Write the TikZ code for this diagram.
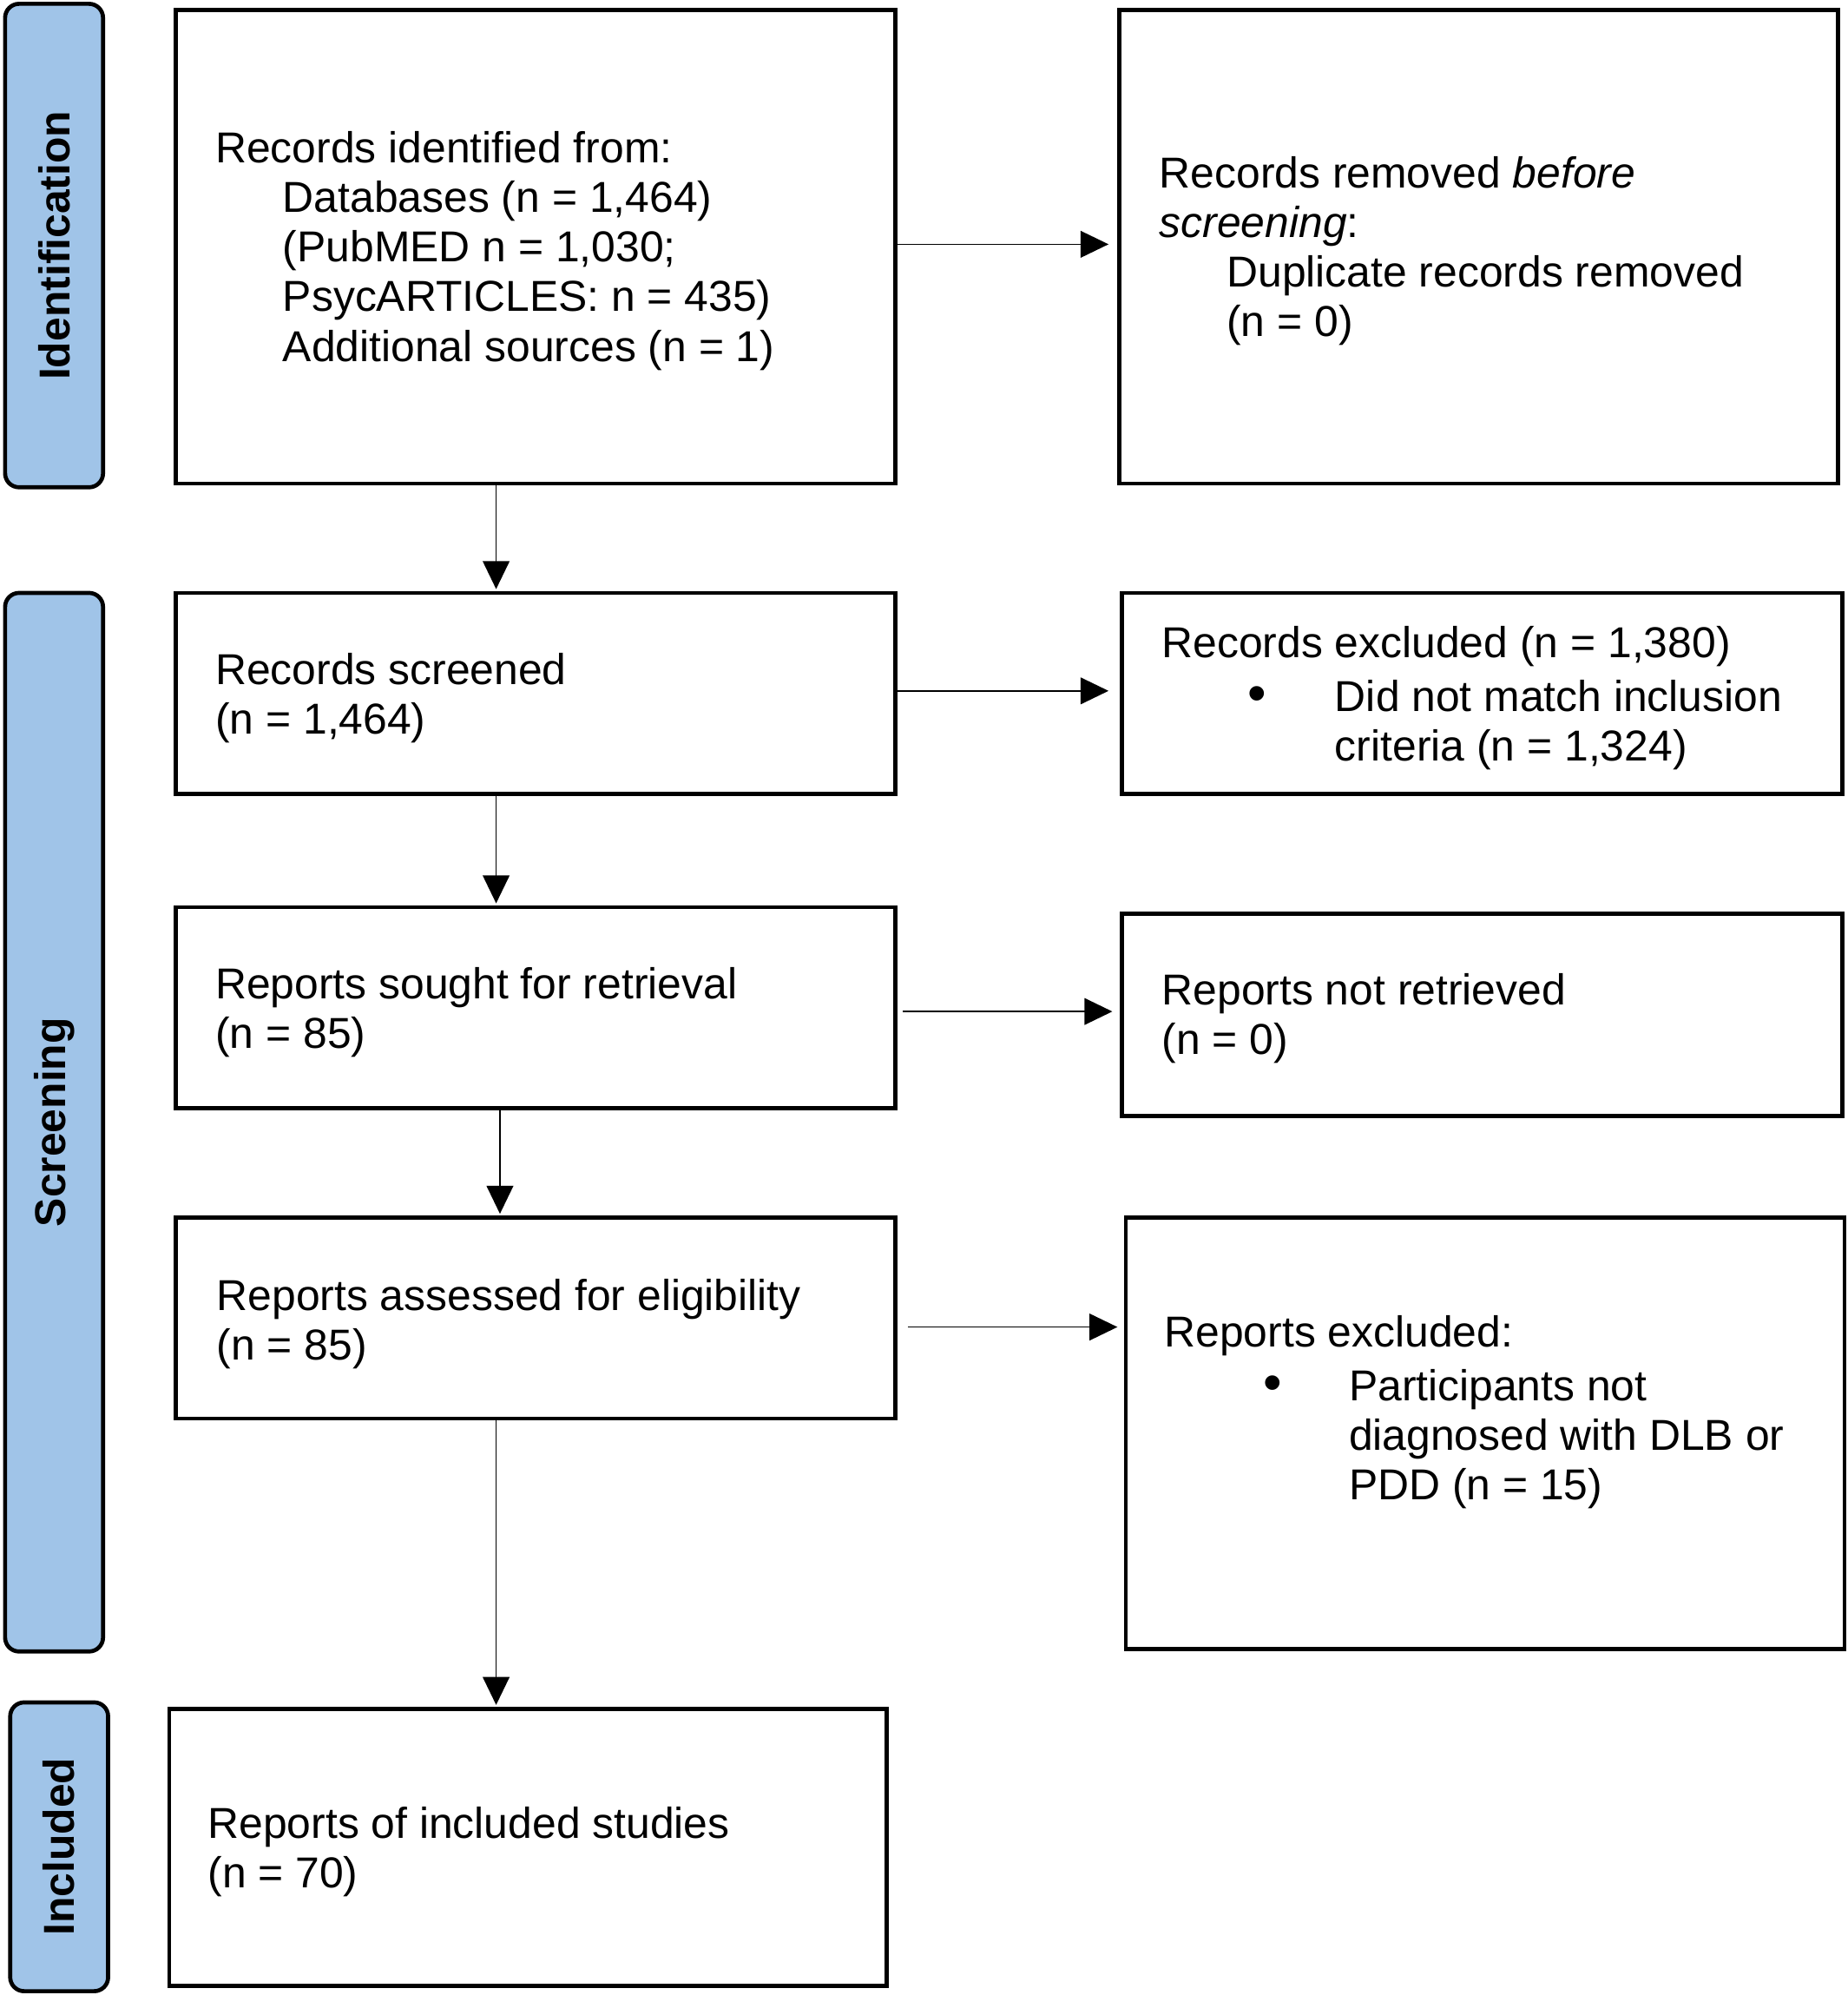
\documentclass[tikz,border=0pt]{standalone}
\usepackage{fontspec}
\setmainfont{Liberation Sans}
\usetikzlibrary{arrows.meta,fit}
\definecolor{barblue}{HTML}{A0C4E8}
\newcommand{\fs}{\rule{0pt}{14pt}}
\newcommand{\bigbul}{\makebox[0pt]{\fontsize{21}{19.5}\selectfont •}}
\begin{document}
\begin{tikzpicture}[x=0.5pt,y=-0.5pt,
  box/.style={draw=black,line width=1.6pt,inner sep=0pt,fill=white},
  bar/.style={draw=black,line width=1.6pt,fill=barblue,rounded corners=5.5pt,inner sep=0pt},
  barlabel/.style={rotate=90,font=\fontsize{17}{19.5}\selectfont\bfseries,inner sep=0pt},
  txt/.style={anchor=north west,align=left,inner sep=0pt,font=\fontsize{17}{19.5}\selectfont},
  arr/.style={-{Triangle[length=11pt,width=10.5pt]},line width=0.6pt}]
\useasboundingbox (0,0) rectangle (1452,1568);
% side bars
\node[bar,fit={(4,3)(81,383)}] (sb1) {};
\node[bar,fit={(4,466)(81,1298)}] (sb2) {};
\node[bar,fit={(8,1338)(85,1565)}] (sb3) {};
\node[barlabel] (l1) at (sb1.center) {Identification};
\node[barlabel] (l2) at (sb2.center) {Screening};
\node[barlabel] (l3) at (sb3.center) {Included};
% boxes
\node[box,fit={(138,8)(704,380)}] (b1) {};
\node[box,fit={(880,8)(1445,380)}] (r1) {};
\node[box,fit={(138,466)(704,624)}] (b2) {};
\node[box,fit={(882,466)(1448,624)}] (r2) {};
\node[box,fit={(138,713)(704,871)}] (b3) {};
\node[box,fit={(882,718)(1448,877)}] (r3) {};
\node[box,fit={(138,957)(704,1115)}] (b4) {};
\node[box,fit={(885,957)(1450,1296)}] (r4) {};
\node[box,fit={(133,1343)(697,1561)}] (b5) {};
% texts
\node[txt] (t1) at (169,99.5) {\fs Records identified from:\\
\hspace*{26.5pt}Databases (n = 1,464)\\
\hspace*{26.5pt}(PubMED n = 1,030;\\
\hspace*{26.5pt}PsycARTICLES: n = 435)\\
\hspace*{26.5pt}Additional sources (n = 1)};
\node[txt] (t2) at (911,119) {\fs Records removed \textit{before}\\
\textit{screening}:\\
\hspace*{26.5pt}Duplicate records removed\\
\hspace*{26.5pt}(n = 0)};
\node[txt] (t3) at (169,509.5) {\fs Records screened\\(n = 1,464)};
\node[txt] (t4) at (913,488.5) {\fs Records excluded (n = 1,380)\\[1.5pt]
\hspace*{37.5pt}\bigbul\hspace*{30.5pt}Did not match inclusion\\
\hspace*{68pt}criteria (n = 1,324)};
\node[txt] (t5) at (169,756.5) {\fs Reports sought for retrieval\\(n = 85)};
\node[txt] (t6) at (913,761.5) {\fs Reports not retrieved\\(n = 0)};
\node[txt] (t7) at (170,1001.5) {\fs Reports assessed for eligibility\\(n = 85)};
\node[txt] (t8) at (915,1030.5) {\fs Reports excluded:\\[1.5pt]
\hspace*{42.5pt}\bigbul\hspace*{30pt}Participants not\\
\hspace*{72.5pt}diagnosed with DLB or\\
\hspace*{72.5pt}PDD (n = 15)};
\node[txt] (t9) at (163,1416.5) {\fs Reports of included studies\\(n = 70)};
% connector guides
\coordinate (va) at (390,0);
\coordinate (vb) at (393,0);
\coordinate (h1) at (0,192);
\coordinate (h2) at (0,543);
\coordinate (h3) at (0,795);
\coordinate (h4) at (0,1043);
% vertical arrows
\draw[arr,shorten >=0.7pt] (b1.south -| va) -- (b2.north -| va);
\draw[arr,shorten >=0.7pt] (b2.south -| va) -- (b3.north -| va);
\draw[arr,shorten >=0.7pt] (b3.south -| vb) -- (b4.north -| vb);
\draw[arr,shorten >=0.7pt] (b4.south -| va) -- (b5.north -| va);
% horizontal arrows
\draw[arr,shorten >=3.5pt] (b1.east |- h1) -- (r1.west |- h1);
\draw[arr,shorten >=4.5pt] (b2.east |- h2) -- (r2.west |- h2);
\draw[arr,shorten <=2pt,shorten >=3pt] (b3.east |- h3) -- (r3.west |- h3);
\draw[arr,shorten <=4pt,shorten >=2.5pt] (b4.east |- h4) -- (r4.west |- h4);
\end{tikzpicture}
\end{document}
